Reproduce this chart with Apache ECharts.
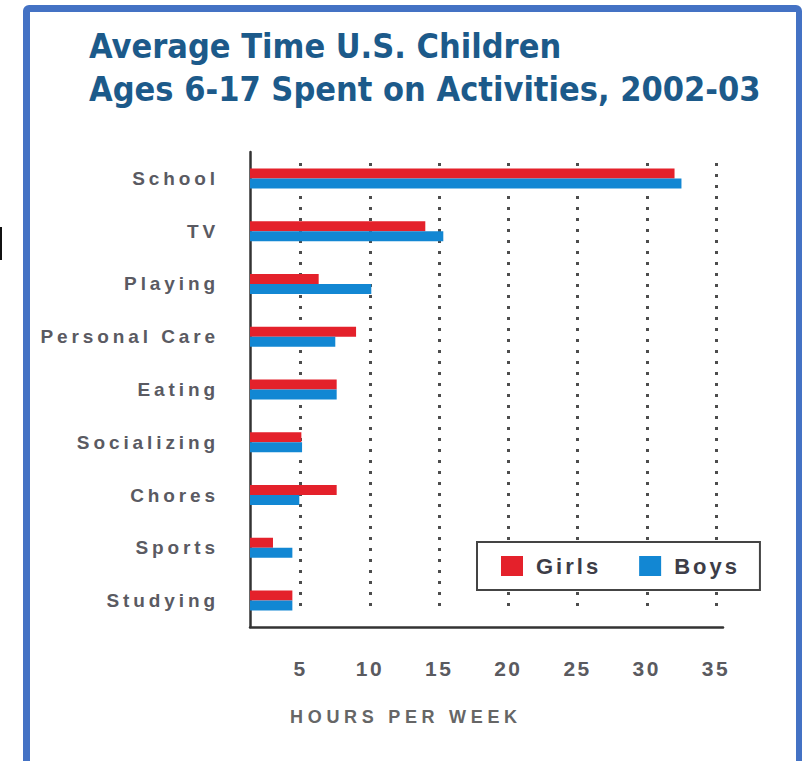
<!DOCTYPE html>
<html>
<head>
<meta charset="utf-8">
<script src="https://cdn.jsdelivr.net/npm/echarts@6/dist/echarts.min.js"></script>
<style>
  html, body { margin: 0; padding: 0; background: #fff; }
  #frame { position: absolute; left: 23px; top: 5px; width: 779px; height: 764px; box-sizing: border-box;
           border: 7px solid #4472c4; border-right-width: 6px; border-radius: 6px; }
  #mark { position: absolute; left: 0; top: 227px; width: 2px; height: 33px; background: #111; }
  #chart { position: absolute; left: 0; top: 0; width: 808px; height: 761px; }
  #chart text[style*="19px"] { letter-spacing: 3.9px; }
  #chart text[style*="21px"] { letter-spacing: 2.5px; }
  #chart text[style*="22px"] { letter-spacing: 3px; }
  #chart text[style*="18px"] { letter-spacing: 4.7px; }
  #chart text[style*="34px"] { font-stretch: condensed !important; }
</style>
</head>
<body>
<div id="frame"></div>
<div id="mark"></div>
<div id="chart"></div>
<script>
const categories = ['School', 'TV', 'Playing', 'Personal Care', 'Eating', 'Socializing', 'Chores', 'Sports', 'Studying'];
const girls = [32.0, 14.0, 6.3, 9.0, 7.6, 5.05, 7.6, 3.0, 4.4];
const boys = [32.5, 15.3, 10.1, 7.5, 7.6, 5.1, 4.9, 4.4, 4.4];
const tickValues = [5, 10, 15, 20, 25, 30, 35];
const titleText = 'Average Time U.S. Children\nAges 6-17 Spent on Activities, 2002-03';
const axisTitle = 'HOURS PER WEEK';

const FONT = "'Liberation Sans', Arial, sans-serif";
const chart = echarts.init(document.getElementById('chart'), null, { renderer: 'svg', width: 808, height: 761 });

chart.setOption({
  animation: false,
  backgroundColor: 'transparent',
  title: {
    text: titleText,
    left: 89, top: 24, padding: 0,
    textStyle: { fontFamily: "'DejaVu Sans Condensed', 'DejaVu Sans', sans-serif", fontWeight: 'bold',
                 fontSize: 34, lineHeight: 43, color: '#1c5a8a' }
  },
  legend: {
    left: 477, top: 542, orient: 'horizontal',
    itemWidth: 22, itemHeight: 20, itemGap: 53, icon: 'rect',
    padding: [13, 32, 13, 24],
    backgroundColor: '#fff', borderColor: '#444', borderWidth: 2,
    textStyle: { fontSize: 22, fontWeight: 'bold', color: '#3d3d47', fontFamily: FONT, padding: [0, 0, 0, 8] },
    data: ['Girls', 'Boys']
  },
  grid: [
    { left: 250, right: 85, top: 152, bottom: 134 },
    { left: 300.7, right: 92, top: 163, bottom: 154 }
  ],
  xAxis: [
    { type: 'value', gridIndex: 0, min: 1.34, max: 35.5,
      axisLine: { show: true, lineStyle: { color: '#333', width: 2.5 } },
      axisTick: { show: false }, axisLabel: { show: false }, splitLine: { show: false } },
    { type: 'value', gridIndex: 1, min: tickValues[0], max: tickValues[tickValues.length - 1], interval: 5,
      axisLine: { show: false }, axisTick: { show: false },
      axisLabel: { show: true, margin: 51, fontSize: 21, fontWeight: 'bold', color: '#5a5a5f', fontFamily: FONT },
      splitLine: { show: true, lineStyle: { type: [3, 8], width: 3, color: '#4d4d4d', cap: 'butt' } } }
  ],
  yAxis: [
    { type: 'category', gridIndex: 0, data: categories, inverse: true,
      axisLine: { show: true, lineStyle: { color: '#333', width: 2.5 } },
      axisTick: { show: false },
      axisLabel: { margin: 31, fontSize: 19, fontWeight: 'bold', color: '#5a5a62', fontFamily: FONT } },
    { type: 'category', gridIndex: 1, data: categories, inverse: true, show: false }
  ],
  graphic: [
    { type: 'text', left: 290, top: 708, silent: true,
      style: { text: axisTitle, fill: '#666', fontSize: 18, fontWeight: 'bold', fontFamily: FONT } }
  ],
  series: [
    { name: 'Girls', type: 'bar', xAxisIndex: 0, yAxisIndex: 0, data: girls, barWidth: 10, barGap: '0%',
      itemStyle: { color: '#e4212b' } },
    { name: 'Boys', type: 'bar', xAxisIndex: 0, yAxisIndex: 0, data: boys, barWidth: 10, barGap: '0%',
      itemStyle: { color: '#1287d3' } }
  ]
});
</script>
</body>
</html>
